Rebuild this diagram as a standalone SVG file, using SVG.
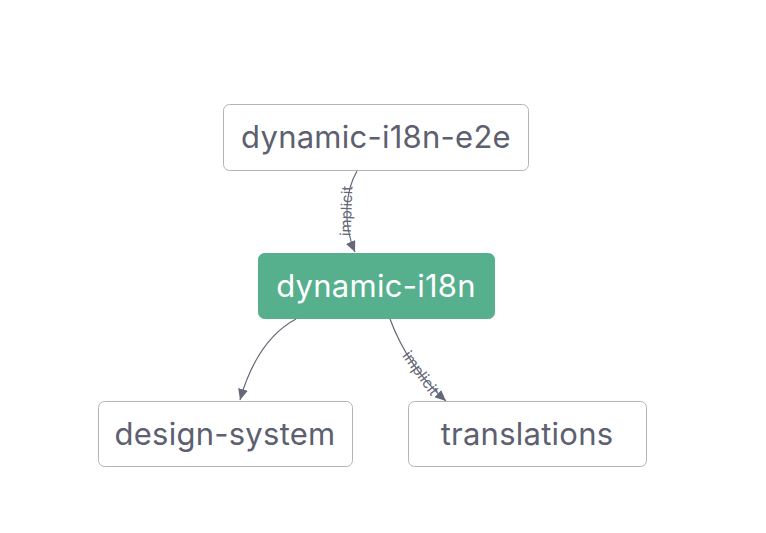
<svg xmlns="http://www.w3.org/2000/svg" width="766" height="533" viewBox="0 0 766 533">
<style>
.node rect{fill:#ffffff;stroke:#b4b4b8;stroke-width:1}
.node text{font-family:Inter,"Liberation Sans",sans-serif;font-size:31px;letter-spacing:0.25px;fill:#5c606f;text-anchor:middle;dominant-baseline:central}
#n-dynamic-i18n rect{fill:#56af8d;stroke:#56af8d}
#n-dynamic-i18n text{fill:#ffffff}
.edge{fill:none;stroke:#656878;stroke-width:1.2}
.elabel{font-family:Inter,"Liberation Sans",sans-serif;font-size:15px;fill:#656878;text-anchor:middle;dominant-baseline:central}
</style>
<defs>
<marker id="arrow" markerUnits="userSpaceOnUse" markerWidth="12" markerHeight="10" refX="11" refY="5" orient="auto">
<path d="M0,0 L11,5 L0,10 z" fill="#656878"/>
</marker>
</defs>
<rect width="766" height="533" fill="#ffffff"/>
<g id="connectors">
<path class="edge" d="M357,171 C346,190 342,222 355,252" marker-end="url(#arrow)"/>
<text class="elabel" transform="translate(346,211) rotate(-88)">implicit</text>
<path class="edge" d="M296,319 C268,334 250,365 240,400" marker-end="url(#arrow)"/>
<path class="edge" d="M390,319 C400,346 418,376 446,401" marker-end="url(#arrow)"/>
<text class="elabel" transform="translate(421,373) rotate(54)">implicit</text>
</g>
<g id="n-dynamic-i18n-e2e" class="node">
<rect x="223.5" y="104.5" width="305" height="66" rx="6"/>
<text x="376" y="136">dynamic-i18n-e2e</text>
</g>
<g id="n-dynamic-i18n" class="node">
<rect x="258.5" y="253.5" width="236" height="65" rx="6"/>
<text x="376" y="285">dynamic-i18n</text>
</g>
<g id="n-design-system" class="node">
<rect x="98.5" y="401.5" width="254" height="65" rx="6"/>
<text x="225" y="433">design-system</text>
</g>
<g id="n-translations" class="node">
<rect x="408.5" y="401.5" width="238" height="65" rx="6"/>
<text x="527" y="433">translations</text>
</g>
</svg>
